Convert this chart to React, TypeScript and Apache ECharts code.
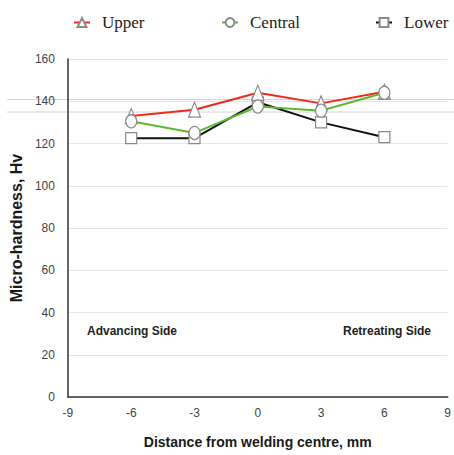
import React, { useEffect, useRef } from "react";
import * as echarts from "echarts";

const distances = [-6, -3, 0, 3, 6];
const upper = [133, 136, 144, 139, 144.5];
const central = [130.5, 125, 137.5, 135.5, 144];
const lower = [122.5, 122.5, 139.5, 130, 123];

const seriesNames = ["Upper", "Central", "Lower"];
const xTicks = { min: -9, max: 9, interval: 3 };
const yTicks = { min: 0, max: 160, interval: 20 };

const sans = "'Liberation Sans', Arial, Helvetica, sans-serif";
const serif = "'Liberation Serif', 'Times New Roman', serif";

export default function App() {
  const ref = useRef<HTMLDivElement>(null);
  useEffect(() => {
    if (!ref.current) return;
    const chart = echarts.init(ref.current, undefined, { renderer: "svg" });
    const pts = (vals: number[]) => distances.map((d, i) => [d, vals[i]]);
    const markerStyle = { color: "#ffffff", borderColor: "#8a8a8a", borderWidth: 1.2 };
    const legendBase = {
      top: 9,
      itemWidth: 16,
      itemHeight: 11,
      textStyle: { fontFamily: serif, fontSize: 17, color: "#222", padding: [0, 0, 0, 7] },
    };
    chart.setOption({
      animation: false,
      backgroundColor: "#ffffff",
      grid: { left: 65, right: 5, top: 59, bottom: 58, containLabel: false },
      legend: [
        { ...legendBase, data: [seriesNames[0]], left: 68 },
        { ...legendBase, data: [seriesNames[1]], left: 216 },
        { ...legendBase, data: [seriesNames[2]], left: 370 },
      ],
      xAxis: {
        type: "value",
        min: xTicks.min,
        max: xTicks.max,
        interval: xTicks.interval,
        name: "Distance from welding centre, mm",
        nameLocation: "middle",
        nameGap: 38,
        nameTextStyle: { fontFamily: sans, fontSize: 14, fontWeight: "bold", color: "#1a1a1a" },
        axisLine: { show: true, onZero: false, lineStyle: { color: "#333", width: 1.5 } },
        axisTick: { show: false },
        splitLine: { show: false },
        axisLabel: { fontFamily: sans, fontSize: 12, color: "#444", margin: 10 },
      },
      yAxis: {
        type: "value",
        min: yTicks.min,
        max: yTicks.max,
        interval: yTicks.interval,
        name: "Micro-hardness, Hv",
        nameLocation: "middle",
        nameGap: 40,
        nameTextStyle: { fontFamily: sans, fontSize: 16, fontWeight: "bold", color: "#1a1a1a" },
        axisLine: { show: true, onZero: false, lineStyle: { color: "#333", width: 1.5 } },
        axisTick: { show: false },
        splitLine: { show: true, lineStyle: { color: "#e6e6e6", width: 1 } },
        axisLabel: { fontFamily: sans, fontSize: 12, color: "#444", margin: 13 },
      },
      graphic: [
        { type: "line", shape: { x1: 7, y1: 99.5, x2: 454, y2: 99.5 }, style: { stroke: "#d4d4d4", lineWidth: 1 }, z: 0 },
        { type: "line", shape: { x1: 7, y1: 112, x2: 454, y2: 112 }, style: { stroke: "#d4d4d4", lineWidth: 1 }, z: 0 },
        {
          type: "text",
          left: 87,
          top: 325,
          style: { text: "Advancing Side", fontFamily: sans, fontSize: 12, fontWeight: "bold", fill: "#222" },
        },
        {
          type: "text",
          left: 343,
          top: 325,
          style: { text: "Retreating Side", fontFamily: sans, fontSize: 12, fontWeight: "bold", fill: "#222" },
        },
      ],
      series: [
        {
          name: seriesNames[0],
          type: "line",
          data: pts(upper),
          symbol: "triangle",
          symbolSize: [12, 15],
          lineStyle: { color: "#ee2a1e", width: 2 },
          itemStyle: markerStyle,
          z: 3,
        },
        {
          name: seriesNames[1],
          type: "line",
          data: pts(central),
          symbol: "circle",
          symbolSize: [11, 13],
          lineStyle: { color: "#5dba2f", width: 2 },
          itemStyle: markerStyle,
          z: 4,
        },
        {
          name: seriesNames[2],
          type: "line",
          data: pts(lower),
          symbol: "rect",
          symbolSize: [11, 11],
          lineStyle: { color: "#111111", width: 2 },
          itemStyle: markerStyle,
          z: 2,
        },
      ],
    });
    return () => chart.dispose();
  }, []);
  return <div ref={ref} style={{ position: "fixed", left: 0, top: 0, width: 454, height: 455 }} />;
}
